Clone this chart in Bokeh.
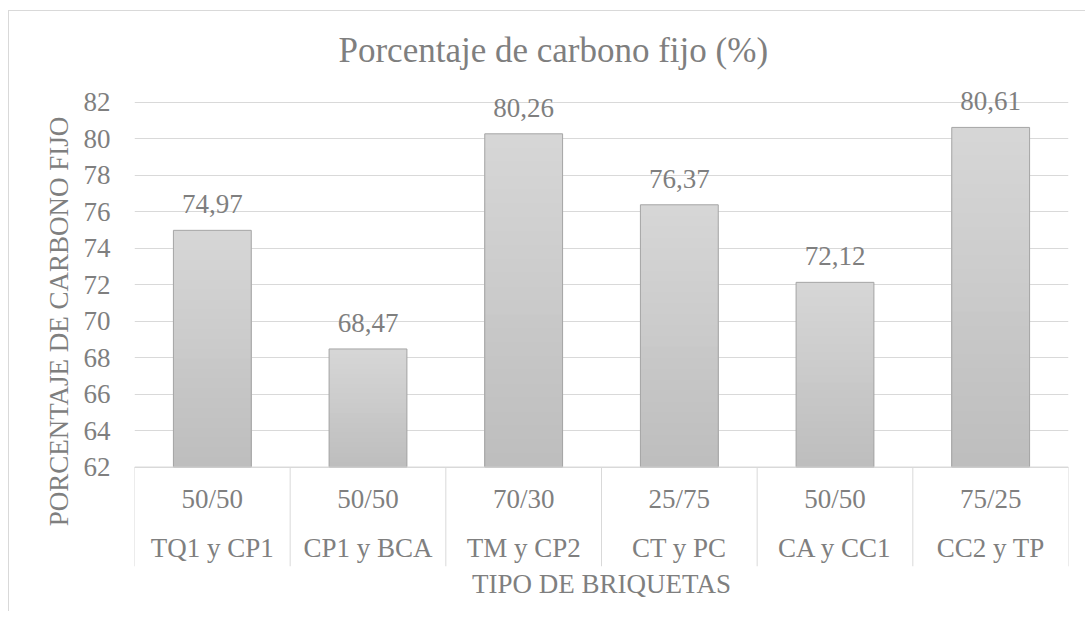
from bokeh.plotting import figure
from bokeh.models import Range1d, FixedTicker, LinearAxis, LabelSet, ColumnDataSource, Span
from bokeh.core.properties import value
from bokeh.embed import file_html
from bokeh.resources import INLINE

# ---- data ----
mezclas = ["TQ1 y CP1", "CP1 y BCA", "TM y CP2", "CT y PC", "CA y CC1", "CC2 y TP"]
proporciones = ["50/50", "50/50", "70/30", "25/75", "50/50", "75/25"]
carbono_fijo = [74.97, 68.47, 80.26, 76.37, 72.12, 80.61]
y_ticks = [62, 64, 66, 68, 70, 72, 74, 76, 78, 80, 82]
titulo = "Porcentaje de carbono fijo (%)"
titulo_y = "PORCENTAJE DE CARBONO FIJO"
titulo_x = "TIPO DE BRIQUETAS"

FONT = "Liberation Serif"
GRAY = "#7f7f7f"
GRID = "#d9d9d9"
BAR_TOP_RGB = (214, 214, 214)
BAR_BOTTOM_RGB = (189, 189, 189)

n = len(mezclas)
base = y_ticks[0]
centers = [i + 0.5 for i in range(n)]
boundaries = [i for i in range(n + 1)]
labels = [f"{v:.2f}".replace(".", ",") for v in carbono_fijo]
src = ColumnDataSource(dict(x=centers, top=carbono_fijo, label=labels,
                            ratio=proporciones, name=mezclas))

# the plot area reaches down over the two category rows (as in the original)
xr = Range1d(0, n)
yr = Range1d(56.55, 83.4)

p = figure(frame_width=934, frame_height=490,
           min_border_left=125, min_border_right=17, min_border_top=65, min_border_bottom=45,
           output_backend="svg", toolbar_location=None,
           x_range=xr, y_range=yr, x_axis_type=None)
p.outline_line_color = None
p.background_fill_color = "white"
p.border_fill_color = "white"
p.styles = {"margin-left": "8px", "margin-top": "10px",
            "border-top": "1px solid #d9d9d9", "border-left": "1px solid #d9d9d9"}

# title
p.title.text = titulo
p.title.text_font = FONT
p.title.text_font_size = "35px"
p.title.text_font_style = "normal"
p.title.text_color = GRAY
p.title.align = "left"
p.title.offset = 204
p.title.standoff = 13

# gridlines
p.ygrid.ticker = FixedTicker(ticks=y_ticks)
p.ygrid.grid_line_color = GRID
p.ygrid.grid_line_width = 1

# bars: vertical grey gradient (light at the top, darker at the bottom)
K = 24
for k in range(K):
    f = 1 - k / K
    rgb = tuple(int(round(b + (t - b) * f)) for t, b in zip(BAR_TOP_RGB, BAR_BOTTOM_RGB))
    color = "#%02x%02x%02x" % rgb
    tops = [base + (v - base) * f for v in carbono_fijo]
    p.vbar(x=centers, top=tops, bottom=base, width=0.5,
           fill_color=color, line_color=None)
p.vbar(x="x", top="top", bottom=base, width=0.5, source=src,
       fill_color=None, line_color="#a5a5a5", line_width=1)

# category axis line and group separators
p.add_layout(Span(location=base, dimension="width", line_color=GRID, line_width=1))
p.segment(x0=boundaries, x1=boundaries, y0=[base] * (n + 1), y1=[yr.start] * (n + 1),
          line_color=GRID, line_width=1)

# category rows
p.text(x="x", y=base, text="ratio", source=src, y_offset=31.5,
       text_align="center", text_baseline="alphabetic",
       text_font=value(FONT), text_font_size="27px", text_color=GRAY)
p.text(x="x", y=base, text="name", source=src, y_offset=80.5,
       text_align="center", text_baseline="alphabetic",
       text_font=value(FONT), text_font_size="27px", text_color=GRAY)

# data labels
p.add_layout(LabelSet(x="x", y="top", text="label", source=src, y_offset=17,
                      text_align="center", text_baseline="alphabetic",
                      text_font=FONT, text_font_size="27px", text_color=GRAY))

# y axis
ya = p.yaxis[0]
ya.ticker = FixedTicker(ticks=y_ticks)
ya.axis_line_color = None
ya.major_tick_line_color = None
ya.minor_tick_line_color = None
ya.major_tick_out = 0
ya.major_tick_in = 0
ya.major_label_standoff = 24
ya.major_label_text_font = FONT
ya.major_label_text_font_size = "27px"
ya.major_label_text_color = GRAY
ya.axis_label = titulo_y
ya.axis_label_text_font = FONT
ya.axis_label_text_font_size = "27px"
ya.axis_label_text_font_style = "normal"
ya.axis_label_text_color = GRAY
ya.axis_label_standoff = 7

# x axis title only
xa = LinearAxis(ticker=FixedTicker(ticks=[]))
xa.axis_line_color = None
xa.major_tick_line_color = None
xa.minor_tick_line_color = None
xa.major_tick_out = 0
xa.major_tick_in = 0
xa.axis_label = titulo_x
xa.axis_label_text_font = FONT
xa.axis_label_text_font_size = "27px"
xa.axis_label_text_font_style = "normal"
xa.axis_label_text_color = GRAY
xa.axis_label_standoff = 2
p.add_layout(xa, "below")

open("out.html", "w").write(file_html(p, INLINE))
